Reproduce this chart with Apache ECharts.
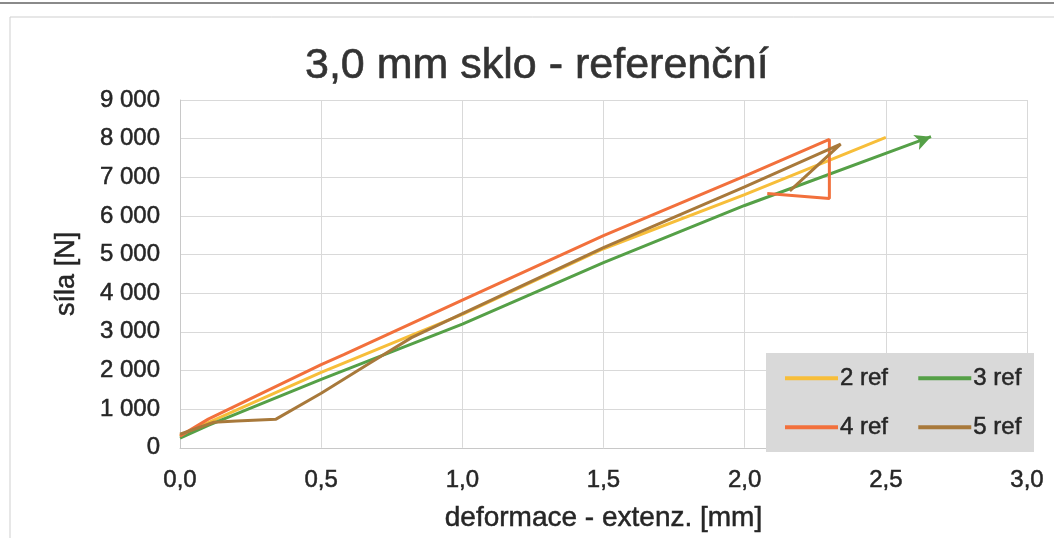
<!DOCTYPE html>
<html>
<head>
<meta charset="utf-8">
<script src="https://cdn.jsdelivr.net/npm/echarts@6/dist/echarts.min.js"></script>
<style>
html,body{margin:0;padding:0;background:#fff;}
#c{width:1054px;height:538px;}
</style>
</head>
<body>
<div id="c"></div>
<script>
// ---- data (deformace [mm], síla [N]) ----
const xTicks = [0, 0.5, 1.0, 1.5, 2.0, 2.5, 3.0];
const yTicks = [0, 1000, 2000, 3000, 4000, 5000, 6000, 7000, 8000, 9000];
const seriesNames = ['2 ref', '3 ref', '4 ref', '5 ref'];

const ref2_x = [0, 0.1, 0.5, 1.0, 1.5, 2.0, 2.5];
const ref2_y = [300, 650, 1950, 3450, 5150, 6550, 8030];

const ref3_x = [0, 0.1, 0.5, 1.0, 1.5, 2.0, 2.66];
const ref3_y = [250, 580, 1770, 3200, 4790, 6270, 8050];

const ref4_x = [0, 0.1, 0.5, 0.58, 1.0, 1.5, 2.0, 2.3, 2.3, 2.08];
const ref4_y = [300, 740, 2150, 2410, 3820, 5490, 7030, 7980, 6450, 6580];

const ref5_x = [0, 0.12, 0.2, 0.34, 0.5, 0.67, 0.82, 1.0, 1.5, 2.0, 2.34, 2.16];
const ref5_y = [350, 660, 690, 740, 1410, 2180, 2850, 3470, 5180, 6750, 7860, 6650];

const colors = ['#F7BE3A', '#55A047', '#F2703C', '#A8793B'];

function pairs(xs, ys) { return xs.map((x, i) => [x, ys[i]]); }

const font = '"Liberation Sans", Arial, sans-serif';
const txt = '#262626';
const heavy = {textBorderColor: txt, textBorderWidth: 0.5};

const green = pairs(ref3_x, ref3_y);
// arrow head on the last point of "3 ref"
green[green.length - 1] = {
  value: green[green.length - 1],
  symbol: 'arrow', symbolSize: [12, 16], symbolRotate: -69
};

const chart = echarts.init(document.getElementById('c'), null, {renderer: 'canvas'});
chart.setOption({
  backgroundColor: '#fff',
  animation: false,
  title: {
    text: '3,0 mm sklo - referenční',
    left: 300, top: 40,
    textStyle: Object.assign({fontFamily: font, fontSize: 43, fontWeight: 'normal', color: '#333'}, {textBorderColor: '#333', textBorderWidth: 0.6})
  },
  grid: {left: 180, right: 27, top: 100, bottom: 86, containLabel: false},
  xAxis: {
    type: 'value', min: xTicks[0], max: xTicks[xTicks.length - 1], interval: 0.5,
    name: 'deformace - extenz. [mm]', nameLocation: 'middle', nameGap: 57,
    nameTextStyle: Object.assign({fontFamily: font, fontSize: 28, color: txt}, heavy),
    axisLine: {show: true, lineStyle: {color: '#c8c8c8', width: 1}},
    axisTick: {show: false},
    splitLine: {show: true, lineStyle: {color: '#d9d9d9', width: 1}},
    axisLabel: Object.assign({
      fontFamily: font, fontSize: 24, color: txt, margin: 21,
      formatter: v => v.toFixed(1).replace('.', ',')
    }, heavy)
  },
  yAxis: {
    type: 'value', min: yTicks[0], max: yTicks[yTicks.length - 1], interval: 1000,
    name: 'síla [N]', nameLocation: 'middle', nameGap: 100, nameRotate: 90,
    nameTextStyle: Object.assign({fontFamily: font, fontSize: 27, color: txt}, heavy),
    axisLine: {show: true, lineStyle: {color: '#c8c8c8', width: 1}},
    axisTick: {show: false},
    splitLine: {show: true, lineStyle: {color: '#d9d9d9', width: 1}},
    axisLabel: Object.assign({
      fontFamily: font, fontSize: 24, color: txt, margin: 20,
      formatter: v => v >= 1000 ? Math.floor(v / 1000) + ' ' + String(v % 1000).padStart(3, '0') : String(v)
    }, heavy)
  },
  legend: [
    {
      data: [seriesNames[0], seriesNames[1]], left: 785, top: 366, padding: 0,
      itemWidth: 53, itemHeight: 4, itemGap: 30, icon: 'rect',
      textStyle: Object.assign({fontFamily: font, fontSize: 24, color: txt, padding: [0, 0, 0, -3]}, heavy)
    },
    {
      data: [seriesNames[2], seriesNames[3]], left: 785, top: 415, padding: 0,
      itemWidth: 53, itemHeight: 4, itemGap: 30, icon: 'rect',
      textStyle: Object.assign({fontFamily: font, fontSize: 24, color: txt, padding: [0, 0, 0, -3]}, heavy)
    }
  ],
  graphic: [
    {type: 'rect', z: 3, shape: {x: 766, y: 353, width: 268, height: 99}, style: {fill: '#d9d9d9'}},
    {type: 'rect', z: 0, shape: {x: 10, y: 17, width: 1100, height: 600}, style: {fill: 'none', stroke: '#cfcfcf', lineWidth: 1}},
    {type: 'line', z: 0, shape: {x1: 0, y1: 3, x2: 1054, y2: 3}, style: {stroke: '#8a8a8a', lineWidth: 2}}
  ],
  series: [
    {name: seriesNames[0], type: 'line', data: pairs(ref2_x, ref2_y), symbol: 'none', color: colors[0],
     lineStyle: {width: 3}, z: 5},
    {name: seriesNames[1], type: 'line', data: green, symbol: 'none', showSymbol: true, color: colors[1],
     lineStyle: {width: 3}, z: 5},
    {name: seriesNames[2], type: 'line', data: pairs(ref4_x, ref4_y), symbol: 'none', color: colors[2],
     lineStyle: {width: 3}, z: 5},
    {name: seriesNames[3], type: 'line', data: pairs(ref5_x, ref5_y), symbol: 'none', color: colors[3],
     lineStyle: {width: 3}, z: 5}
  ]
});
</script>
</body>
</html>
